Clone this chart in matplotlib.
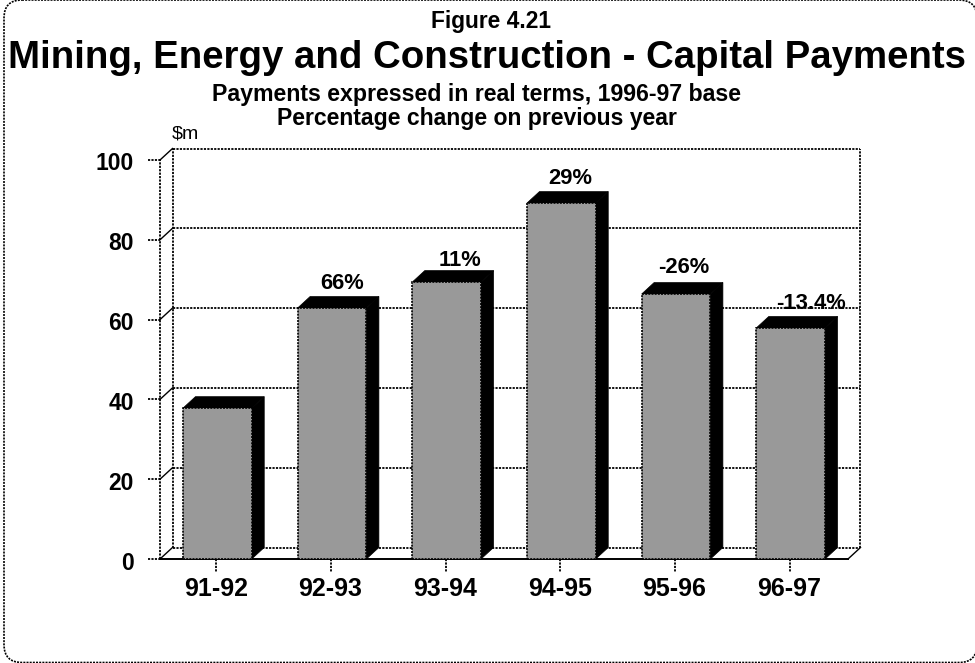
import matplotlib
matplotlib.use('Agg')
import matplotlib.pyplot as plt
from matplotlib.patches import FancyBboxPatch, Polygon, Rectangle

plt.rcParams['font.family'] = ['Liberation Sans', 'DejaVu Sans']

years = ['91-92', '92-93', '93-94', '94-95', '95-96', '96-97']
payments = [37.8, 62.9, 69.4, 89.2, 66.4, 57.9]
changes = ['', '66%', '11%', '29%', '-26%', '-13.4%']
y_ticks = [0, 20, 40, 60, 80, 100]

W, H = 975, 663
fig = plt.figure(figsize=(W / 100, H / 100), dpi=100)

# pixel layer for frame and titles
bg = fig.add_axes([0, 0, 1, 1])
bg.set_xlim(0, W)
bg.set_ylim(H, 0)
bg.axis('off')
bg.add_patch(FancyBboxPatch((4, 0), 973, 662.5, boxstyle='round,pad=0,rounding_size=18',
                            fc='white', ec='black', lw=1.2, ls=(0, (1.2, 0.7)), clip_on=True))
bg.text(491, 28, 'Figure 4.21', ha='center', va='baseline', fontsize=16.4, fontweight='bold')
bg.text(487, 68, 'Mining, Energy and Construction - Capital Payments', ha='center', va='baseline',
        fontsize=27.6, fontweight='bold')
bg.text(476, 101, 'Payments expressed in real terms, 1996-97 base', ha='center', va='baseline',
        fontsize=16.7, fontweight='bold')
bg.text(477, 125, 'Percentage change on previous year', ha='center', va='baseline',
        fontsize=16.6, fontweight='bold')
bg.text(185, 134, '$m', ha='center', va='center', fontsize=14)

# front plane of the 3d box: x 160-848, y 559-160 px
ax = fig.add_axes([160 / W, 1 - 559 / H, 688 / W, 399 / H])
ax.set_xlim(0, 6)
ax.set_ylim(0, 100)
ax.axis('off')
px = 6 / 688
py = 100 / 399
dx = 12.5 * px
dy = 11.5 * py
bar_w = 0.6
line = dict(color='black', lw=1.3, ls=(0, (1.2, 0.7)), clip_on=False)

# label nudges in px, the labels are not centred the same way over each bar
nudge_x = [0, 4, 7, 3, 2, 14]
nudge_y = [0, -1, -4, -1, 1, -2]

# back wall
for t in y_ticks:
    ax.plot([dx, 6 + dx], [t + dy, t + dy], zorder=3, **line)
    ax.plot([-12 * px, 0], [t, t], zorder=3, **line)
    ax.plot([0, dx], [t, t + dy], color='black', lw=1, clip_on=False, zorder=3)
ax.plot([0, 0], [0, 100], zorder=3, **line)
ax.plot([dx, dx], [dy, 100 + dy], zorder=3, **line)
ax.plot([6 + dx, 6 + dx], [dy, 100 + dy], zorder=3, **line)
ax.plot([0, 6], [0, 0], color='black', lw=1.4, clip_on=False, zorder=3)
ax.plot([6, 6 + dx], [0, dy], color='black', lw=1, clip_on=False, zorder=3)

for i, v in enumerate(payments):
    x0 = i + 0.5 - bar_w / 2
    x1 = x0 + bar_w
    ax.add_patch(Polygon([(x1, 0), (x1 + dx, dy), (x1 + dx, v + dy), (x1, v)], fc='black', ec='black',
                         lw=0.5, clip_on=False, zorder=4))
    ax.add_patch(Polygon([(x0, v), (x0 + dx, v + dy), (x1 + dx, v + dy), (x1, v)], fc='black', ec='black',
                         lw=0.5, clip_on=False, zorder=4))
    ax.add_patch(Rectangle((x0, 0), bar_w, v, fc='#999999', ec='black', lw=1.2, ls=(0, (1.2, 0.7)),
                           clip_on=False, zorder=5))
    ax.plot([i + 0.5 - px, i + 0.5 - px], [0, -3.2], zorder=3, **line)
    ax.text(i + 0.5 - 1.5 * px, -7.6, years[i], ha='center', va='center', fontsize=18, fontweight='bold',
            clip_on=False)
    if changes[i]:
        ax.text(i + 0.5 + dx / 2 + nudge_x[i] * px, v + dy + 1 + nudge_y[i] * py, changes[i], ha='center',
                va='bottom', fontsize=15.8, fontweight='bold', clip_on=False, zorder=2)

for t in y_ticks:
    ax.text(-0.23, t - 4 * py, str(t), ha='right', va='center', fontsize=16.5, fontweight='bold', clip_on=False)

fig.savefig('out.png', dpi=100)
